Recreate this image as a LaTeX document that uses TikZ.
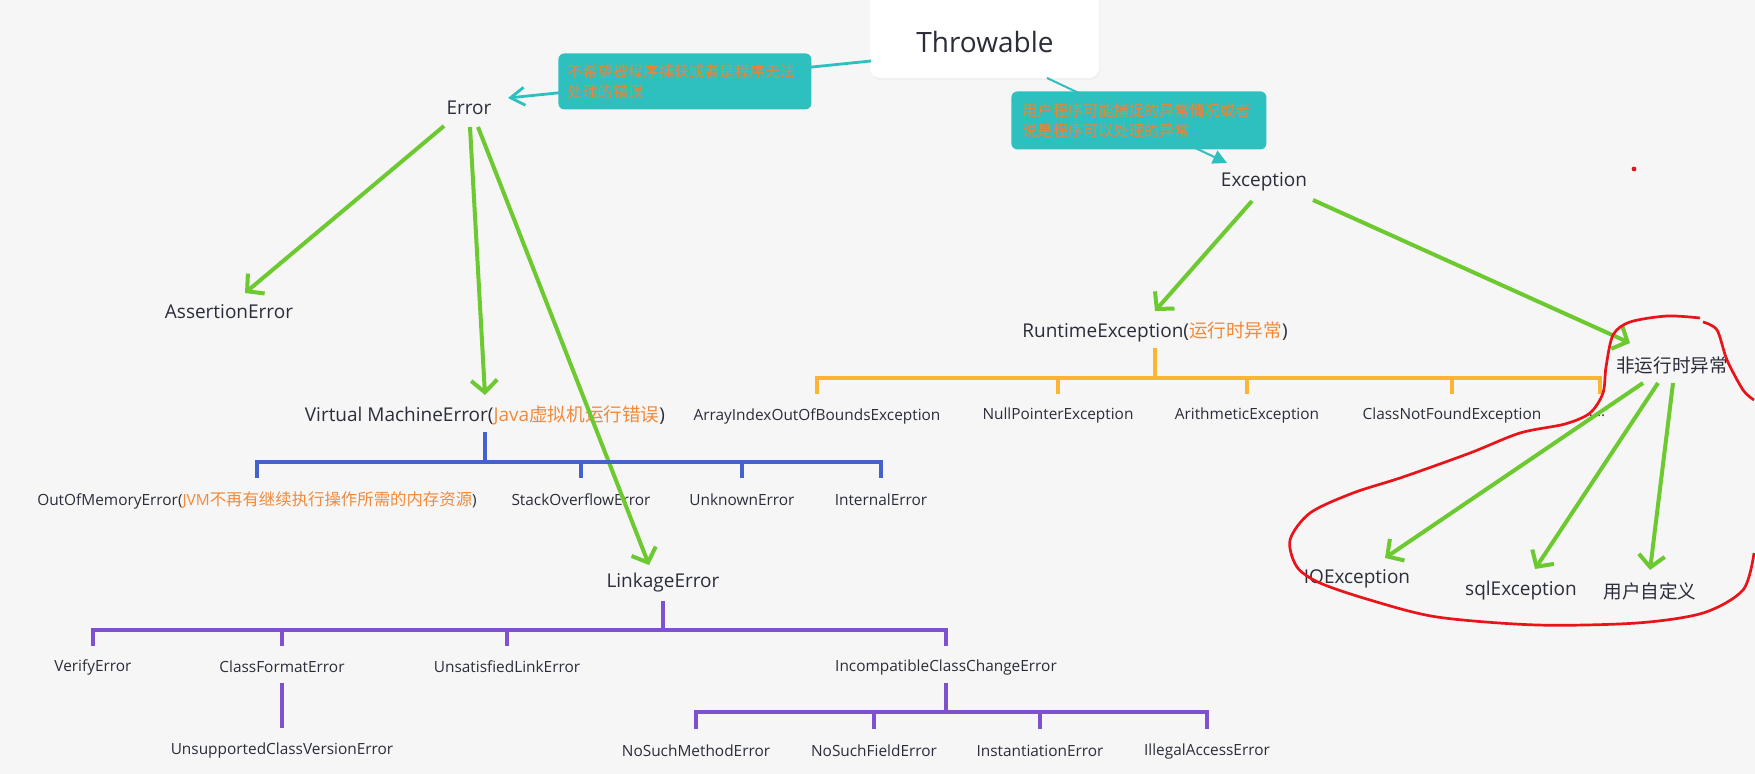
\documentclass[tikz,border=0pt]{standalone}
\usepackage{fontspec}
\setmainfont{Open Sans}
\newfontfamily\cjk{Noto Sans CJK SC}
\usetikzlibrary{arrows.meta}
\definecolor{bg}{HTML}{F6F6F6}
\definecolor{tealc}{HTML}{2EBFBF}
\definecolor{orgtxt}{HTML}{F28A3A}
\definecolor{caltxt}{HTML}{E8873A}
\definecolor{grn}{HTML}{6CC92F}
\definecolor{obar}{HTML}{FBB532}
\definecolor{bbar}{HTML}{4462C9}
\definecolor{pbar}{HTML}{7E52CE}
\definecolor{txt}{HTML}{2B2D3A}
\definecolor{redc}{HTML}{E8141A}
\newcommand\myfs[1]{\fontsize{#1}{#1}\selectfont}
\newcommand\zh[2]{{\cjk\fontsize{#1}{#1}\selectfont #2}}
\tikzset{
  lbl/.style={inner sep=0pt, text=txt, font=\myfs{7.7}},
  midl/.style={inner sep=0pt, text=txt, font=\myfs{9.5}},
  garr/.style={draw=grn, line width=2pt, -{Straight Barb[length=6pt,width=13pt]}},
  obr/.style={draw=obar, line width=1.8pt},
  bbr/.style={draw=bbar, line width=1.8pt},
  pbr/.style={draw=pbar, line width=1.8pt},
  redline/.style={draw=redc, line width=1.35pt},
  callout/.style={fill=tealc, rounded corners=3pt, inner ysep=0pt, align=left,
     text=caltxt, font=\cjk\fontsize{7.6}{10}\selectfont, anchor=north west}
}
\begin{document}
\begin{tikzpicture}[x=0.5pt,y=-0.5pt]
\useasboundingbox (0,0) rectangle (1755,774);
\fill[bg] (0,0) rectangle (1755,774);

% Throwable box
\fill[black!6, rounded corners=5pt] (871,-12) rectangle (1100,80);
\fill[white, rounded corners=5pt] (870,-12) rectangle (1099,78);
\node[inner sep=0pt, text=txt, font=\myfs{14}] (thr) at (985,42) {Throwable};

% main nodes
\node[midl] (err) at (469,108) {Error};
\node[midl] (exc) at (1264,182) {Exception};
\node[midl] (assert) at (229,312) {AssertionError};
\node[midl] (vm) at (485,415) {Virtual MachineError({\color{orgtxt}Java\zh{9.3}{虚拟机运行错误}})};
\node[midl] (rte) at (1155,332) {RuntimeException({\color{orgtxt}\zh{9.3}{运行时异常}})};
\node[midl] (nre) at (1672,365) {\zh{9.3}{非运行时异常}};
\node[midl] (io) at (1357,579) {IOException};
\node[midl] (sql) at (1521,591) {sqlException};
\node[midl] (user) at (1650,591) {\zh{9.3}{用户自定义}};
\node[midl] (link) at (663,583) {LinkageError};

% runtime children
\node[lbl] (ai) at (817,416) {ArrayIndexOutOfBoundsException};
\node[lbl] (npe) at (1058,416) {NullPointerException};
\node[lbl] (ari) at (1247,416) {ArithmeticException};
\node[lbl] (cnf) at (1452,416) {ClassNotFoundException};
\node[lbl] (dots) at (1595,416) {.....};

% VM children
\node[lbl] (oom) at (257,500) {OutOfMemoryError({\color{orgtxt}JVM\zh{8.2}{不再有继续执行操作所需的内存资源}})};
\node[lbl] (soe) at (581,500) {StackOverflowError};
\node[lbl] (une) at (742,500) {UnknownError};
\node[lbl] (ie) at (881,500) {InternalError};

% Linkage children
\node[lbl] (ve) at (93,667) {VerifyError};
\node[lbl] (cfe) at (282,667) {ClassFormatError};
\node[lbl] (ule) at (507,667) {UnsatisfiedLinkError};
\node[lbl] (icce) at (946,667) {IncompatibleClassChangeError};
\node[lbl] (ucve) at (282,750) {UnsupportedClassVersionError};
\node[lbl] (nsme) at (696,751) {NoSuchMethodError};
\node[lbl] (nsfe) at (874,751) {NoSuchFieldError};
\node[lbl] (inst) at (1040,751) {InstantiationError};
\node[lbl] (iae) at (1207,751) {IllegalAccessError};

% teal connectors (under callouts)
\draw[tealc, line width=1.4pt, -{Straight Barb[length=7pt,width=9pt]}]
  ([shift={(-114,19)}]thr.center) -- ([shift={(39,-10)}]err.center);
\draw[tealc, line width=1pt, -{Triangle[length=7pt,width=7pt]}]
  ([shift={(62,36)}]thr.center) -- ([shift={(-37,-19)}]exc.center);

% callouts
\node[callout, inner xsep=4.5pt, text width=117.5pt, minimum height=28pt] (cal1) at (558,53)
  {不希望被程序捕获或者是程序无法\\处理的错误};
\node[callout, inner xsep=5.5pt, text width=116.5pt, minimum height=29pt] (cal2) at (1011,91)
  {用户程序可能捕捉的异常情况或者\\说是程序可以处理的异常};

% green arrows
\draw[garr] ([shift={(-25,18)}]err.center) -- ([shift={(16,-19)}]assert.center);
\draw[garr] ([shift={(1,19)}]err.center) -- ([shift={(0,-20)}]vm.center);
\draw[garr] ([shift={(9,19)}]err.center) -- ([shift={(-14,-18)}]link.center);
\draw[garr] ([shift={(-12,19)}]exc.center) -- ([shift={(0,-21)}]rte.center);
\draw[garr] ([shift={(49,18)}]exc.center) -- ([shift={(-42,-22)}]nre.center);
\draw[garr] ([shift={(-29,18)}]nre.center) -- ([shift={(28,-21)}]io.center);
\draw[garr] ([shift={(-14,18)}]nre.center) -- ([shift={(14,-22)}]sql.center);
\draw[garr] ([shift={(1,18)}]nre.center) -- ([shift={(0,-21)}]user.center);

% orange bracket
\draw[obr] ([shift={(0,16)}]rte.center) -- ++(0,30);
\draw[obr] ([shift={(0,-22)}]ai.center) |- ([shift={(5,-38)}]dots.center) -- ([shift={(5,-22)}]dots.center);
\foreach \n in {npe,ari,cnf} \draw[obr] ([shift={(0,-22)}]\n.center) -- ++(0,-16);

% blue bracket
\draw[bbr] ([shift={(0,17)}]vm.center) -- ++(0,30);
\draw[bbr] ([shift={(0,-22)}]oom.center) |- ([shift={(0,-38)}]ie.center) -- ([shift={(0,-22)}]ie.center);
\foreach \n in {soe,une} \draw[bbr] ([shift={(0,-22)}]\n.center) -- ++(0,-16);

% purple brackets
\draw[pbr] ([shift={(0,18)}]link.center) -- ++(0,29);
\draw[pbr] ([shift={(0,-21)}]ve.center) |- ([shift={(0,-37)}]icce.center) -- ([shift={(0,-21)}]icce.center);
\foreach \n in {cfe,ule} \draw[pbr] ([shift={(0,-21)}]\n.center) -- ++(0,-16);
\draw[pbr] ([shift={(0,16)}]cfe.center) -- ([shift={(0,-22)}]ucve.center);
\draw[pbr] ([shift={(0,16)}]icce.center) -- ++(0,29);
\draw[pbr] ([shift={(0,-22)}]nsme.center) |- ([shift={(0,-39)}]iae.center) -- ([shift={(0,-22)}]iae.center);
\foreach \n in {nsfe,inst} \draw[pbr] ([shift={(0,-22)}]\n.center) -- ++(0,-17);

% red freehand outline
\draw[redline] plot[smooth, tension=0.5] coordinates {
 (1754,553) (1743,590) (1703,613) (1637,623) (1537,625) (1437,617) (1370,600)
 (1320,583) (1297,567) (1290,540) (1310,513) (1353,493) (1403,477) (1470,453)
 (1520,433) (1565,424) (1590,413) (1603,393) (1606,367) (1613,335) (1630,322)
 (1667,316) (1700,318)};
\draw[redline] plot[smooth, tension=0.5] coordinates {
 (1703,322) (1717,330) (1727,360) (1743,390) (1754,400)};
\fill[redc] (1634,169) circle (1.2pt);
\end{tikzpicture}
\end{document}
